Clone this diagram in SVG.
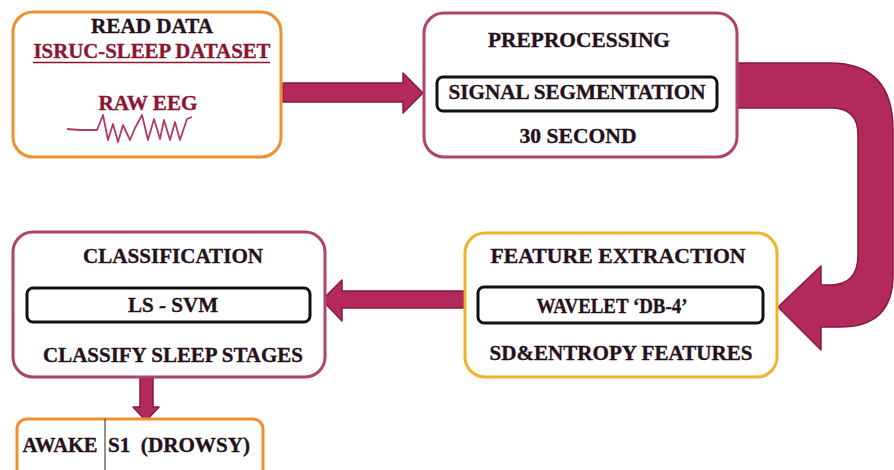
<svg xmlns="http://www.w3.org/2000/svg" width="894" height="470" viewBox="0 0 894 470">
  <defs>
    <style>
      .box { fill: #ffffff; stroke-width: 3; }
      .orange { stroke: #ee9030; }
      .gold { stroke: #efb32c; }
      .crimson { stroke: #b0436d; }
      .inner { fill: #ffffff; stroke: #111111; stroke-width: 3; }
      .t { font-family: "Liberation Serif", "Times New Roman", serif; font-weight: bold; font-size: 21.5px; fill: #25101c; stroke: #25101c; stroke-width: 0.35; text-anchor: middle; white-space: pre; }
      .red { fill: #8c1530; stroke: #8c1530; }
      .arrow { fill: #b3285d; stroke: #86193f; stroke-width: 1.5; stroke-linejoin: round; }
      .wave { fill: none; stroke: #b13a6c; stroke-width: 1.8; stroke-linejoin: round; }
    </style>
  </defs>
  <rect width="894" height="470" fill="#ffffff"/>

  <!-- connectors -->
  <g id="connectors">
    <path class="arrow" d="M283,83 L403,83 L403,73 L423,93 L403,113 L403,102 L283,102 Z"/>
    <path class="arrow" d="M737,63 L830,63 Q893,63 893,130 L893,275 Q893,327 840,327 L821,327 L821,350 L778,307 L821,266 L821,285 L830,285 Q858,285 858,255 L858,135 Q858,108 832,108 L737,108 Z"/>
    <path class="arrow" d="M464,291 L342,291 L342,280 L322,300 L342,321 L342,308 L464,308 Z"/>
    <path class="arrow" d="M140,378 L153,378 L153,407 L159,407 L146,421 L133,407 L140,407 Z"/>
  </g>

  <!-- read data -->
  <g id="read-data">
    <rect class="box orange" x="13" y="12" width="268" height="145" rx="20"/>
    <text class="t" x="152" y="33" textLength="122" lengthAdjust="spacingAndGlyphs">READ DATA</text>
    <text class="t red" x="152" y="58" textLength="237" lengthAdjust="spacingAndGlyphs">ISRUC-SLEEP DATASET</text>
    <line x1="33" y1="62.5" x2="270" y2="62.5" stroke="#8c1530" stroke-width="1.6"/>
    <text class="t red" x="148" y="110" textLength="99" lengthAdjust="spacingAndGlyphs">RAW EEG</text>
    <polyline class="wave" points="67,129 80,130 97,130 103,115 108,140 113,124 118,142 123,125 130,140 135,128 142,115 148,140 154,119 160,139 164,120 170,140 175,122 180,140 187,119 192,117"/>
  </g>

  <!-- preprocessing -->
  <g id="preprocessing">
    <rect class="box crimson" x="424" y="13" width="313" height="144" rx="20"/>
    <text class="t" x="579" y="47" textLength="182" lengthAdjust="spacingAndGlyphs">PREPROCESSING</text>
    <rect class="inner" x="437" y="77" width="280" height="34" rx="6"/>
    <text class="t" x="577" y="99" textLength="257" lengthAdjust="spacingAndGlyphs">SIGNAL SEGMENTATION</text>
    <text class="t" x="578" y="143" textLength="117" lengthAdjust="spacingAndGlyphs">30 SECOND</text>
  </g>

  <!-- feature extraction -->
  <g id="feature-extraction">
    <rect class="box gold" x="465" y="233" width="312" height="144" rx="20"/>
    <text class="t" x="618" y="263" textLength="255" lengthAdjust="spacingAndGlyphs">FEATURE EXTRACTION</text>
    <rect class="inner" x="478" y="287" width="285" height="36" rx="6"/>
    <text class="t" x="612" y="313" textLength="151" lengthAdjust="spacingAndGlyphs">WAVELET ‘DB-4’</text>
    <text class="t" x="621" y="360" textLength="263" lengthAdjust="spacingAndGlyphs">SD&amp;ENTROPY FEATURES</text>
  </g>

  <!-- classification -->
  <g id="classification">
    <rect class="box crimson" x="13" y="232" width="312" height="145" rx="20"/>
    <text class="t" x="173" y="263" textLength="180" lengthAdjust="spacingAndGlyphs">CLASSIFICATION</text>
    <rect class="inner" x="27" y="288" width="283" height="34" rx="6"/>
    <text class="t" x="173" y="312" textLength="90" lengthAdjust="spacingAndGlyphs">LS - SVM</text>
    <text class="t" x="173" y="362" textLength="260" lengthAdjust="spacingAndGlyphs">CLASSIFY SLEEP STAGES</text>
  </g>

  <!-- sleep stages -->
  <g id="sleep-stages">
    <rect class="box orange" x="17" y="419" width="246" height="70" rx="10"/>
    <line x1="105" y1="419" x2="105" y2="470" stroke="#222222" stroke-width="1"/>
    <text class="t" x="60" y="452" textLength="75" lengthAdjust="spacingAndGlyphs">AWAKE</text>
    <text class="t" x="179" y="452" textLength="142" lengthAdjust="spacingAndGlyphs">S1  (DROWSY)</text>
  </g>
</svg>
